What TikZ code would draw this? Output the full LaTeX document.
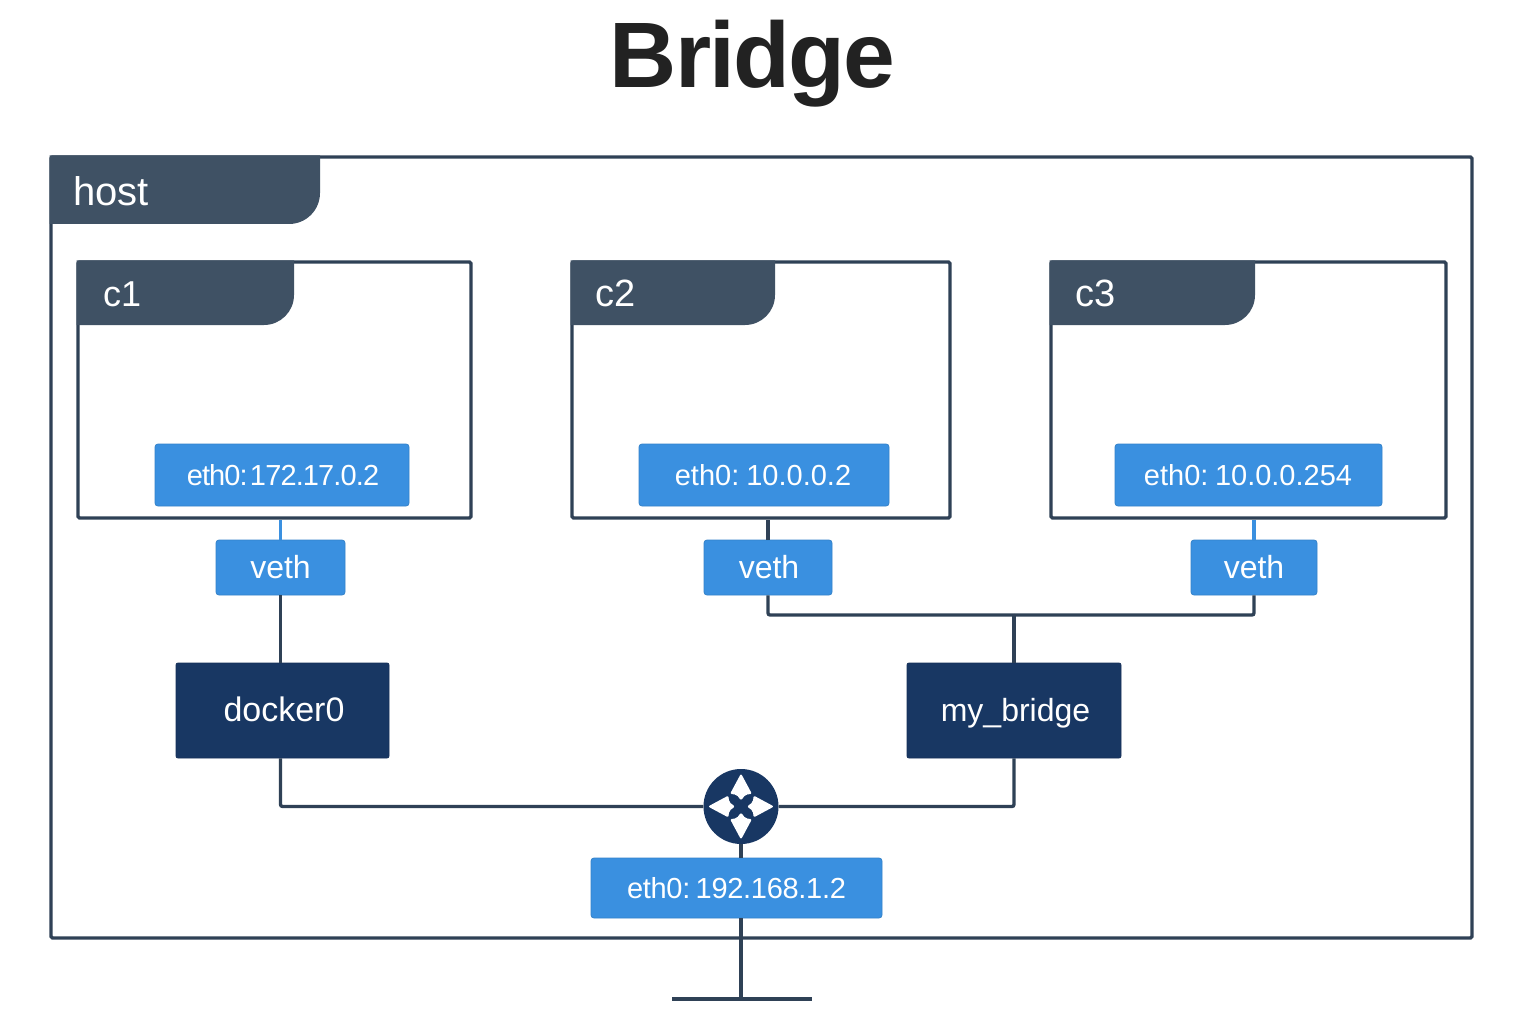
\documentclass[tikz,border=0pt]{standalone}
\usepackage{fontspec}
\setmainfont{Liberation Sans}
\definecolor{linec}{HTML}{2F4156}
\definecolor{tabc}{HTML}{3F5164}
\definecolor{bluec}{HTML}{3A90E0}
\definecolor{navyc}{HTML}{183763}
\definecolor{titlec}{HTML}{222222}
\tikzset{
  framebox/.style={draw=linec,line width=3.3pt,rounded corners=1.5pt,inner sep=0pt,fill=white},
  tabshape/.style={fill=tabc,rounded corners=0pt},
  tablabel/.style={text=white,inner sep=0pt,anchor=base west},
  ifacebox/.style={fill=bluec,draw=bluec!90!black,line width=.8pt,rounded corners=3pt,text=white,inner sep=0pt,text height=21pt,text depth=0pt,font=\fontsize{29}{29}\selectfont},
  vethbox/.style={ifacebox,text height=22pt,font=\fontsize{32}{32}\selectfont},
  bridgebox/.style={fill=navyc,draw=navyc!90!black,line width=.8pt,rounded corners=2pt,text=white,inner sep=0pt,text height=22pt,text depth=0pt},
  wire/.style={draw=linec,line width=3.3pt},
  bluewire/.style={draw=bluec,line width=3.5pt},
}
\newcommand{\boxat}[7]{% name, style, x1,y1,x2,y2, text
  \node[#2,minimum width=#5pt-#3pt,minimum height=#6pt-#4pt] (#1) at ({(#3+#5)/2},{(#4+#6)/2}) {#7};}
\begin{document}
\begin{tikzpicture}[x=1pt,y=-1pt]
\useasboundingbox (0,0) rectangle (1536,1024);
\node[text=titlec,inner sep=0pt,anchor=base,font=\fontsize{93}{93}\selectfont\bfseries\addfontfeature{LetterSpace=-2}] (title) at (752.5,88) {Bridge};
% host
\boxat{host}{framebox}{51}{157}{1472}{938}{}
\fill[tabshape] (49.5,155.5) -- (320,155.5) -- (320,193) arc[start angle=0,end angle=90,radius=31] -- (49.5,224) -- cycle;
\node[tablabel,font=\fontsize{40}{40}\selectfont] (hostlabel) at (73,206) {host};
% containers
\boxat{c1}{framebox}{78}{262}{471}{518}{}
\fill[tabshape] (76.5,260.5) -- (294,260.5) -- (294,295) arc[start angle=0,end angle=90,radius=30] -- (76.5,325) -- cycle;
\node[tablabel,font=\fontsize{36}{36}\selectfont] (c1label) at (103,306) {c1};
\boxat{c2}{framebox}{572}{262}{950}{518}{}
\fill[tabshape] (570.5,260.5) -- (775,260.5) -- (775,295) arc[start angle=0,end angle=90,radius=30] -- (570.5,325) -- cycle;
\node[tablabel,font=\fontsize{38}{38}\selectfont] (c2label) at (595,306) {c2};
\boxat{c3}{framebox}{1051}{262}{1446}{518}{}
\fill[tabshape] (1049.5,260.5) -- (1255,260.5) -- (1255,295) arc[start angle=0,end angle=90,radius=30] -- (1049.5,325) -- cycle;
\node[tablabel,font=\fontsize{38}{38}\selectfont] (c3label) at (1075,306) {c3};
% interfaces
\boxat{e1}{ifacebox}{155}{444}{409}{506}{\hspace{2pt}\addfontfeature{LetterSpace=-3}eth0:\kern-5pt\ 172.17.0.2}
\boxat{e2}{ifacebox}{639}{444}{889}{506}{\kern-2pt eth0:\kern-1pt\ 10.0.0.2}
\boxat{e3}{ifacebox}{1115}{444}{1382}{506}{\kern-1pt eth0:\kern-1.5pt\ 10.0.0.254}
\boxat{v1}{vethbox}{216}{540}{345}{595}{veth}
\boxat{v2}{vethbox}{704}{540}{832}{595}{\kern2pt veth}
\boxat{v3}{vethbox}{1191}{540}{1317}{595}{veth}
\boxat{d0}{bridgebox,font=\fontsize{34}{34}\selectfont}{176}{663}{389}{758}{\kern3pt docker0}
\boxat{mb}{bridgebox,font=\fontsize{32}{32}\selectfont}{907}{663}{1121}{758}{\kern3pt my\_bridge}
\boxat{eh}{ifacebox}{591}{858}{882}{918}{\addfontfeature{LetterSpace=-1}eth0:\kern-2.5pt\ 192.168.1.2}
% router
\node[circle,fill=navyc,minimum size=75pt,inner sep=0pt] (rt) at (741,806.5) {};
\foreach \a in {0,90,180,270}{
  \fill[white,rotate around={\a:(rt.center)},rounded corners=2pt]
    ([shift={(0,-33)}]rt.center) -- ([shift={(11,-12.5)}]rt.center) -- ([shift={(4.5,-12)}]rt.center)
    -- ([shift={(0,-6)}]rt.center) -- ([shift={(-4.5,-12)}]rt.center) -- ([shift={(-11,-12.5)}]rt.center) -- cycle;
}
% connectors
\coordinate (bus) at (mb.north |- 0,615);
\coordinate (ground) at (rt.south |- 0,999);
\coordinate (gl) at (672,999);
\coordinate (gr) at (812,999);
\draw[bluewire] (v1.north) -- (v1.north |- c1.south);
\draw[wire] (v2.north) -- (v2.north |- c2.south);
\draw[bluewire] (v3.north) -- (v3.north |- c3.south);
\draw[wire] (v1.south) -- (v1.south |- d0.north);
\draw[wire,rounded corners=2pt] (v2.south) |- (bus);
\draw[wire,rounded corners=2pt] (v3.south) |- (bus);
\draw[wire] (bus) -- (mb.north);
\draw[wire,rounded corners=2pt] (d0.south -| v1.south) |- (rt.west);
\draw[wire,rounded corners=2pt] (mb.south) |- (rt.east);
\draw[wire] (rt.south) -- (rt.south |- eh.north);
\draw[wire] (rt.south |- eh.south) -- (ground);
\draw[wire] (gl) -- (gr);
\end{tikzpicture}
\end{document}
